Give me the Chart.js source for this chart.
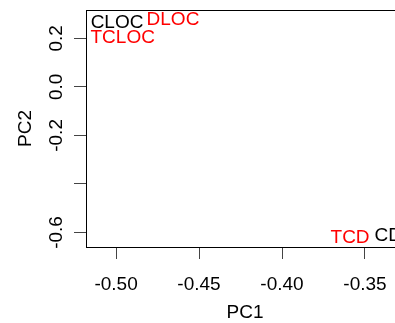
<!DOCTYPE html>
<html lang="en">
<head>
    <meta charset="UTF-8">
    <title>PCA</title>
    <script src="https://cdn.jsdelivr.net/npm/chart.js"></script>
    <style>
        html, body { margin: 0; padding: 0; overflow: hidden; background: #fff; }
        #wrap { width: 395px; height: 323px; overflow: hidden; }
    </style>
</head>
<body>
    <div id="wrap">
        <canvas id="myChart" width="440" height="323"></canvas>
    </div>

    <script>
        // samples and their scores
        const samples = ['CLOC', 'DLOC', 'TCLOC', 'TCD', 'CD'];
        const pc1 = [-0.4994, -0.4657, -0.496, -0.359, -0.336];
        const pc2 = [0.272, 0.283, 0.207, -0.614, -0.606];
        const labelColors = ['black', 'red', 'red', 'red', 'black'];

        const xTicks = [-0.50, -0.45, -0.40, -0.35];
        const xTickLabels = ['-0.50', '-0.45', '-0.40', '-0.35'];
        const yTicks = [0.2, 0.0, -0.2, -0.4, -0.6];
        const yTickLabels = ['0.2', '0.0', '-0.2', '', '-0.6'];

        const FONT = '19px "Liberation Sans", Arial, Helvetica, sans-serif';
        const CAP = 6.8; // half cap height, to centre text on a point

        const rPlot = {
            id: 'rPlot',
            afterDraw(chart) {
                const ctx = chart.ctx;
                const a = chart.chartArea;
                const xs = chart.scales.x, ys = chart.scales.y;
                ctx.save();
                ctx.strokeStyle = '#000';
                ctx.lineWidth = 1;
                ctx.strokeRect(Math.round(a.left) + 0.5, Math.round(a.top) + 0.5,
                    Math.round(a.right - a.left), Math.round(a.bottom - a.top));

                ctx.font = FONT;
                ctx.fillStyle = '#000';
                ctx.textAlign = 'center';
                ctx.textBaseline = 'alphabetic';

                xTicks.forEach((v, i) => {
                    ctx.fillText(xTickLabels[i], xs.getPixelForValue(v), a.bottom + 43);
                });
                ctx.fillText('PC1', (a.left + a.right) / 2, a.bottom + 71);

                yTicks.forEach((v, i) => {
                    ctx.save();
                    ctx.translate(a.left - 24, ys.getPixelForValue(v));
                    ctx.rotate(-Math.PI / 2);
                    ctx.fillText(yTickLabels[i], 0, 0);
                    ctx.restore();
                });
                ctx.save();
                ctx.translate(a.left - 55, (a.top + a.bottom) / 2);
                ctx.rotate(-Math.PI / 2);
                ctx.fillText('PC2', 0, 0);
                ctx.restore();

                // sample names at their points
                const meta = chart.getDatasetMeta(0);
                meta.data.forEach((pt, i) => {
                    ctx.fillStyle = labelColors[i];
                    ctx.fillText(samples[i], pt.x, pt.y + CAP);
                });
                ctx.restore();
            }
        };

        var ctx = document.getElementById('myChart').getContext('2d');
        var myChart = new Chart(ctx, {
            type: 'scatter',
            data: {
                datasets: [{
                    data: pc1.map((x, i) => ({ x: x, y: pc2[i] })),
                    pointRadius: 0,
                    pointHoverRadius: 0
                }]
            },
            options: {
                responsive: false,
                animation: false,
                devicePixelRatio: 1,
                layout: { padding: { top: 10, right: 36, left: 0, bottom: 0 } },
                plugins: { legend: { display: false }, tooltip: { enabled: false } },
                scales: {
                    x: {
                        type: 'linear',
                        min: -0.5181,
                        max: -0.3265,
                        afterBuildTicks: s => { s.ticks = xTicks.map(v => ({ value: v })); },
                        afterFit: s => { s.height = 76; },
                        ticks: { display: false },
                        border: { display: false },
                        grid: { drawOnChartArea: false, drawTicks: true, tickLength: 12, color: '#444' }
                    },
                    y: {
                        type: 'linear',
                        min: -0.66,
                        max: 0.317,
                        afterBuildTicks: s => { s.ticks = yTicks.map(v => ({ value: v })); },
                        afterFit: s => { s.width = 86; },
                        ticks: { display: false },
                        border: { display: false },
                        grid: { drawOnChartArea: false, drawTicks: true, tickLength: 12, color: '#444' }
                    }
                }
            },
            plugins: [rPlot]
        });
    </script>
</body>
</html>
